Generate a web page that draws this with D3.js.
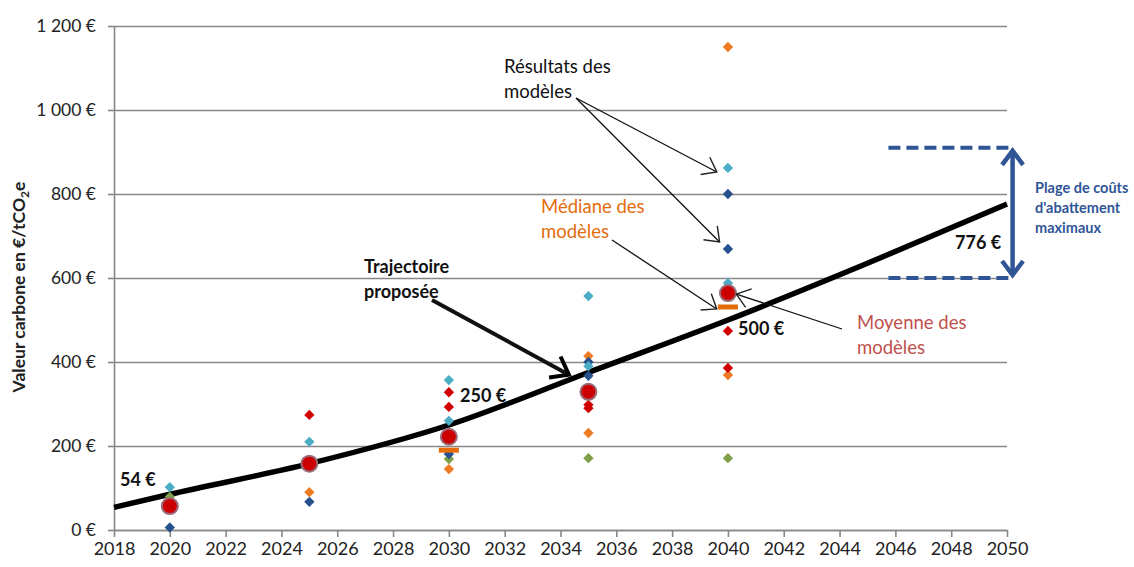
<!DOCTYPE html>
<html>
<head>
<meta charset="utf-8">
<script src="https://cdn.jsdelivr.net/npm/d3@7"></script>
<style>
  body { margin: 0; background: #fff; }
  text { font-family: Lato, "Open Sans", sans-serif; }
</style>
</head>
<body>
<svg id="chart" width="1134" height="567"></svg>
<script>
// Trajectoire proposée (valeur carbone, €/tCO2e)
const trajYears = [2018, 2020, 2025, 2030, 2035, 2040, 2045, 2050];
const trajValues = [54, 85, 158, 250, 375, 500, 635, 776];

// Résultats des modèles, [année, valeur] par couleur
const modelesBleuClair = [[2020, 102], [2025, 210], [2030, 357], [2030, 260], [2035, 557], [2035, 390], [2040, 862], [2040, 588]];
const modelesBleuFonce = [[2020, 6], [2025, 67], [2030, 181], [2035, 400], [2035, 367], [2040, 800], [2040, 669]];
const modelesRouge = [[2025, 274], [2030, 328], [2030, 293], [2035, 298], [2035, 290], [2040, 474], [2040, 386]];
const modelesOrange = [[2025, 90], [2030, 145], [2035, 414], [2035, 231], [2040, 1150], [2040, 369]];
const modelesVert = [[2020, 79], [2030, 169], [2035, 171], [2040, 171]];

const moyenne = [[2020, 57], [2025, 158], [2030, 222], [2035, 329], [2040, 564]];
const mediane = [[2030, 190], [2040, 531]];

// Plage de coûts d'abattement maximaux
const plageMin = 600;
const plageMax = 910;

const xTicks = d3.range(2018, 2051, 2);
const yTicks = [0, 200, 400, 600, 800, 1000, 1200];

const svg = d3.select('#chart');
const x = d3.scaleLinear().domain([2018, 2050]).range([114, 1007]);
const y = d3.scaleLinear().domain([0, 1200]).range([530, 26]);

const grey = '#888';
const fr = d3.formatLocale({ decimal: ',', thousands: '\u00a0', grouping: [3], currency: ['', ' €'] });

// grille
svg.append('g')
    .attr('transform', `translate(${x.range()[0]},0)`)
    .call(d3.axisLeft(y).tickValues(yTicks).tickSize(-(x.range()[1] - x.range()[0])).tickFormat(''))
    .call(g => g.select('.domain').remove())
    .call(g => g.selectAll('line').attr('stroke', grey).attr('stroke-width', 1.6));

// axe Y
svg.append('g')
    .attr('transform', `translate(${x.range()[0]},0)`)
    .call(d3.axisLeft(y).tickValues(yTicks).tickSize(6).tickSizeOuter(0).tickPadding(12)
        .tickFormat(d => fr.format(',')(d) + ' €'))
    .call(g => g.select('.domain').attr('stroke', grey).attr('stroke-width', 1.6))
    .call(g => g.selectAll('line').attr('stroke', grey).attr('stroke-width', 1.6))
    .call(g => g.selectAll('text').attr('font-size', 17.5).attr('fill', '#222').attr('font-family', 'Lato'));

// axe X
svg.append('g')
    .attr('transform', `translate(0,${y(0)})`)
    .call(d3.axisBottom(x).tickValues(xTicks).tickSize(7).tickSizeOuter(0).tickPadding(5).tickFormat(d3.format('d')))
    .call(g => g.select('.domain').attr('stroke', grey).attr('stroke-width', 1.6))
    .call(g => g.selectAll('line').attr('stroke', grey).attr('stroke-width', 1.6))
    .call(g => g.selectAll('text').attr('font-size', 18).attr('fill', '#222').attr('font-family', 'Lato'));

// titre axe Y
const yt = svg.append('text')
    .attr('transform', `translate(25,${(y(0) + y(1200)) / 2 + 9}) rotate(-90)`)
    .attr('text-anchor', 'middle')
    .attr('font-size', 17.5).attr('font-weight', 'bold').attr('fill', '#222');
yt.append('tspan').text('Valeur carbone en €/tCO');
yt.append('tspan').attr('font-size', 12).attr('dy', 4).text('2');
yt.append('tspan').attr('dy', -4).text('e');

// trajectoire
svg.append('path')
    .datum(trajYears.map((d, i) => [d, trajValues[i]]))
    .attr('fill', 'none').attr('stroke', '#000').attr('stroke-width', 5.5)
    .attr('d', d3.line().x(d => x(d[0])).y(d => y(d[1])).curve(d3.curveMonotoneX));

// marqueurs flèches
const defs = svg.append('defs');
function marker(id, size, color, width) {
    defs.append('marker').attr('id', id)
        .attr('markerUnits', 'userSpaceOnUse')
        .attr('viewBox', `${-size - 2} ${-size - 2} ${2 * size + 4} ${2 * size + 4}`)
        .attr('markerWidth', 2 * size + 4).attr('markerHeight', 2 * size + 4)
        .attr('orient', 'auto-start-reverse')
        .append('path')
        .attr('d', `M${-size},${-size * 0.75}L0,0L${-size},${size * 0.75}`)
        .attr('fill', 'none').attr('stroke', color).attr('stroke-width', width);
}
marker('fleche', 13, '#222', 1.4);
marker('flecheEpaisse', 16, '#000', 4);
marker('flecheBleue', 14, '#2f5597', 4.5);

// diamants des modèles
const diamond = d3.symbol().type(d3.symbolDiamond2).size(68);
const series = [
    [modelesVert, '#7f9f48'],
    [modelesOrange, '#ee7b23'],
    [modelesRouge, '#d00000'],
    [modelesBleuFonce, '#26518d'],
    [modelesBleuClair, '#4bacc6']
];
series.forEach(([data, color]) => {
    svg.append('g').selectAll('path').data(data).join('path')
        .attr('transform', d => `translate(${x(d[0])},${y(d[1])})`)
        .attr('d', diamond)
        .attr('fill', color);
});

// médiane
svg.append('g').selectAll('rect').data(mediane).join('rect')
    .attr('x', d => x(d[0]) - 10).attr('y', d => y(d[1]) - 2.5)
    .attr('width', 20).attr('height', 5)
    .attr('fill', '#e46c0a');

// moyenne
svg.append('g').selectAll('circle').data(moyenne).join('circle')
    .attr('cx', d => x(d[0])).attr('cy', d => y(d[1]))
    .attr('r', 8)
    .attr('fill', '#cc0000').attr('stroke', '#9a6a78').attr('stroke-width', 2);

// plage de coûts
[plageMin, plageMax].forEach(v => {
    svg.append('line')
        .attr('x1', x(2045.75)).attr('x2', x(2050.2))
        .attr('y1', y(v)).attr('y2', y(v))
        .attr('stroke', '#2f5597').attr('stroke-width', 4).attr('stroke-dasharray', '12,6');
});
svg.append('line')
    .attr('x1', x(2050.2)).attr('x2', x(2050.2))
    .attr('y1', y(plageMin) - 3).attr('y2', y(plageMax) + 3)
    .attr('stroke', '#2f5597').attr('stroke-width', 4.5)
    .attr('marker-start', 'url(#flecheBleue)').attr('marker-end', 'url(#flecheBleue)');

// annotations texte
function label(lines, px, py, opts = {}) {
    const t = svg.append('text')
        .attr('font-size', opts.size || 18.5)
        .attr('font-weight', opts.bold ? 'bold' : 'normal')
        .attr('fill', opts.color || '#111');
    lines.forEach((l, i) => {
        t.append('tspan').attr('x', px).attr('y', py + i * (opts.lh || 25)).text(l);
    });
}
label(['Résultats des', 'modèles'], 504, 73);
label(['Médiane des', 'modèles'], 541, 213, { color: '#e46c0a' });
label(['Trajectoire', 'proposée'], 364, 273, { bold: true, size: 18 });
label(['Moyenne des', 'modèles'], 857, 329, { color: '#c0504d' });
label(['54 €'], 120, 486, { bold: true, size: 18 });
label(['250 €'], 460, 402, { bold: true, size: 18 });
label(['500 €'], 738, 335, { bold: true, size: 18 });
label(['776 €'], 955, 249, { bold: true, size: 18 });
label(['Plage de coûts', "d'abattement", 'maximaux'], 1035, 193, { bold: true, size: 14.5, lh: 20, color: '#2f5597' });

// flèches
function arrow(x1, y1, x2, y2, id, w) {
    svg.append('line')
        .attr('x1', x1).attr('y1', y1).attr('x2', x2).attr('y2', y2)
        .attr('stroke', '#111').attr('stroke-width', w)
        .attr('marker-end', `url(#${id})`);
}
arrow(576, 98, x(2039.6), y(862) + 4, 'fleche', 1.3);
arrow(576, 98, x(2039.7), y(669) - 7, 'fleche', 1.3);
arrow(612, 240, x(2039.6), y(531) + 2, 'fleche', 1.3);
arrow(842, 329, x(2040.3), y(564) + 1, 'fleche', 1.3);
arrow(432, 300, x(2034.3), y(365) - 2, 'flecheEpaisse', 4);
</script>
</body>
</html>
